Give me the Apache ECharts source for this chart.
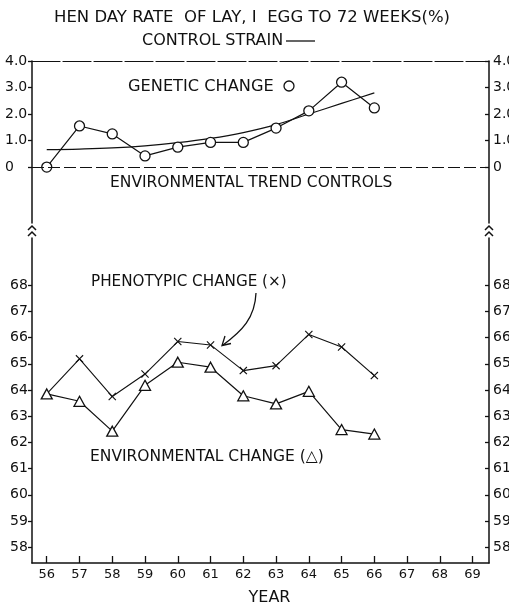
<!DOCTYPE html>
<html>
<head>
<meta charset="utf-8">
<script src="https://cdn.jsdelivr.net/npm/echarts@6/dist/echarts.min.js"></script>
<style>
  html, body { margin: 0; padding: 0; background: #fff; }
  #chart { width: 509px; height: 603px; }
</style>
</head>
<body>
<div id="chart"></div>
<script>
  'use strict'
  // ---- data ----
  var years = [56, 57, 58, 59, 60, 61, 62, 63, 64, 65, 66];
  var yearTicks = [56, 57, 58, 59, 60, 61, 62, 63, 64, 65, 66, 67, 68, 69];
  var genetic = [0, 1.55, 1.25, 0.42, 0.75, 0.93, 0.93, 1.47, 2.12, 3.2, 2.23];
  var controlTrend = [0.66, 0.68, 0.72, 0.8, 0.92, 1.08, 1.3, 1.6, 2.0, 2.4, 2.8];
  var phenotypic = [63.85, 65.19, 63.75, 64.61, 65.85, 65.72, 64.74, 64.93, 66.12, 65.64, 64.55];
  var environmental = [63.85, 63.57, 62.43, 64.18, 65.06, 64.87, 63.78, 63.47, 63.95, 62.49, 62.32];
  var topTicks = [0, 1, 2, 3, 4];
  var bottomTicks = [58, 59, 60, 61, 62, 63, 64, 65, 66, 67, 68];

  var ink = '#111';
  var font = 'DejaVu Sans';

  function pairs(vals) {
    return years.map(function (y, i) { return [y, vals[i]]; });
  }
  function topFmt(v) { return v === 0 ? '0' : v.toFixed(1); }

  var xCross = 'path://M1,0 L5,4 L9,0 L10,1 L6,5 L10,9 L9,10 L5,6 L1,10 L0,9 L4,5 L0,1 Z';

  // phenotypic line starts on the first triangle, no x drawn there
  var phenoData = pairs(phenotypic).map(function (p, i) {
    return i === 0 ? { value: p, symbol: 'none' } : p;
  });

  function yAxisPair(grid, min, max, ticks, fmt, leftMargin) {
    var line = { show: true, onZero: false, lineStyle: { color: ink, width: 1.5 } };
    return [
      {
        gridIndex: grid, type: 'value', min: min, max: max, position: 'left',
        axisLine: line,
        axisTick: { show: true, inside: false, length: 4, customValues: ticks, lineStyle: { color: ink, width: 1.3 } },
        axisLabel: { customValues: ticks, formatter: fmt, align: 'left', margin: leftMargin,
                     fontFamily: font, fontSize: 14, color: ink },
        splitLine: { show: false }
      },
      {
        gridIndex: grid, type: 'value', min: min, max: max, position: 'right',
        axisLine: line,
        axisTick: { show: true, inside: true, length: 4, customValues: ticks, lineStyle: { color: ink, width: 1.3 } },
        axisLabel: { customValues: ticks, formatter: fmt, align: 'left', margin: 4,
                     fontFamily: font, fontSize: 14, color: ink },
        splitLine: { show: false }
      }
    ];
  }

  var yAxes = yAxisPair(0, -2.11, 4, topTicks, topFmt, 27)
    .concat(yAxisPair(1, 57.4, 69.8, bottomTicks, function (v) { return String(v); }, 22));

  function txt(x, y, s, size, align) {
    return {
      type: 'text', x: x, y: y, silent: true,
      style: { text: s, fill: ink, font: size + 'px "' + font + '"', align: align || 'left', verticalAlign: 'middle' }
    };
  }
  function chevron(x, y) {
    return { type: 'polyline', silent: true,
      shape: { points: [[x - 4, y + 3], [x, y - 1], [x + 4, y + 3]] },
      style: { stroke: ink, lineWidth: 1.5, fill: null } };
  }

  var option = {
    animation: false,
    backgroundColor: '#fff',
    grid: [
      { left: 32, right: 20, top: 61, height: 162, outerBoundsMode: 'none', containLabel: false },
      { left: 32, right: 20, top: 238, bottom: 40, outerBoundsMode: 'none', containLabel: false }
    ],
    xAxis: [
      {
        gridIndex: 0, type: 'value', min: 55.55, max: 69.5, position: 'top',
        axisLine: { show: true, onZero: false, lineStyle: { color: ink, width: 1.2, type: [28, 3] } },
        axisTick: { show: false }, axisLabel: { show: false }, splitLine: { show: false }
      },
      {
        gridIndex: 1, type: 'value', min: 55.55, max: 69.5, position: 'bottom',
        axisLine: { show: true, onZero: false, lineStyle: { color: ink, width: 1.5 } },
        axisTick: { show: true, inside: true, length: 7, customValues: yearTicks, lineStyle: { color: ink, width: 1.3 } },
        axisLabel: { customValues: yearTicks, margin: 5, fontFamily: font, fontSize: 13, color: ink },
        splitLine: { show: false },
        name: 'YEAR', nameLocation: 'middle', nameGap: 27,
        nameTextStyle: { fontFamily: font, fontSize: 16, color: ink, padding: [0, 0, 0, 18] }
      }
    ],
    yAxis: yAxes,
    series: [
      {
        name: 'genetic change', type: 'line', xAxisIndex: 0, yAxisIndex: 0,
        data: pairs(genetic), symbol: 'circle', symbolSize: 10, z: 4,
        itemStyle: { color: '#fff', borderColor: ink, borderWidth: 1.3 },
        lineStyle: { color: ink, width: 1.2 },
        markLine: {
          silent: true, symbol: ['none', 'none'], label: { show: false },
          lineStyle: { color: ink, width: 1.2, type: [12, 4] },
          data: [{ yAxis: 0 }]
        }
      },
      {
        name: 'control strain', type: 'line', xAxisIndex: 0, yAxisIndex: 0,
        data: pairs(controlTrend), smooth: 0.4, symbol: 'none', z: 3,
        lineStyle: { color: ink, width: 1.2 }
      },
      {
        name: 'phenotypic change', type: 'line', xAxisIndex: 1, yAxisIndex: 2,
        data: phenoData, symbol: xCross, symbolSize: 8, z: 3,
        itemStyle: { color: ink },
        lineStyle: { color: ink, width: 1.1 }
      },
      {
        name: 'environmental change', type: 'line', xAxisIndex: 1, yAxisIndex: 2,
        data: pairs(environmental), symbol: 'triangle', symbolSize: [11, 10], z: 4,
        itemStyle: { color: '#fff', borderColor: ink, borderWidth: 1.3 },
        lineStyle: { color: ink, width: 1.2 }
      }
    ],
    graphic: [
      txt(252, 18, 'HEN DAY RATE  OF LAY, I  EGG TO 72 WEEKS(%)', 16.5, 'center'),
      txt(142, 41, 'CONTROL STRAIN', 16),
      { type: 'line', silent: true, shape: { x1: 286, y1: 41, x2: 315, y2: 41 }, style: { stroke: ink, lineWidth: 1.3 } },
      txt(128, 87, 'GENETIC CHANGE', 16.2),
      { type: 'circle', silent: true, shape: { cx: 289, cy: 86, r: 5 }, style: { stroke: ink, lineWidth: 1.3, fill: '#fff' } },
      txt(110, 183, 'ENVIRONMENTAL TREND CONTROLS', 15.5),
      txt(91, 282, 'PHENOTYPIC CHANGE (×)', 15.2),
      txt(90, 457, 'ENVIRONMENTAL CHANGE (△)', 15.5),
      { type: 'bezierCurve', silent: true,
        shape: { x1: 256, y1: 293, cpx1: 255, cpy1: 318, cpx2: 242, cpy2: 331, x2: 223, y2: 345 },
        style: { stroke: ink, lineWidth: 1.3, fill: null } },
      { type: 'polyline', silent: true, shape: { points: [[225, 336], [222, 345.5], [231, 343.5]] },
        style: { stroke: ink, lineWidth: 1.3, fill: null } },
      chevron(32, 227), chevron(32, 233),
      chevron(489, 227), chevron(489, 233)
    ]
  };

  var chart = echarts.init(document.getElementById('chart'));
  chart.setOption(option);
</script>
</body>
</html>
